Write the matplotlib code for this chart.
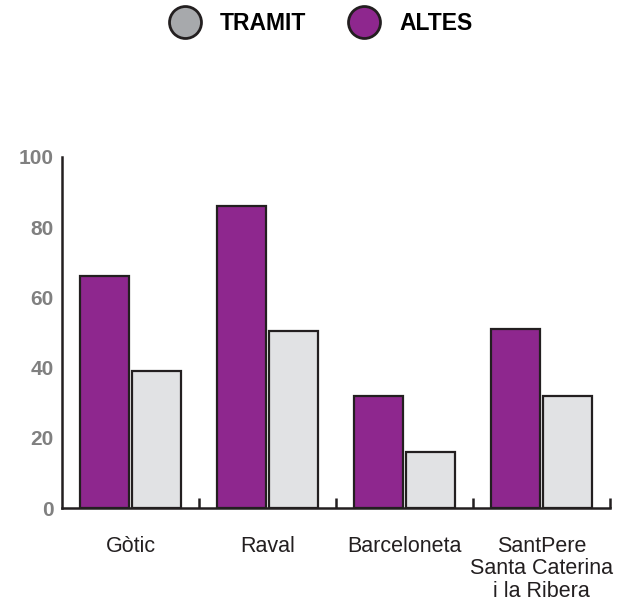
import matplotlib
matplotlib.use("Agg")
import matplotlib.pyplot as plt
from matplotlib.lines import Line2D
import numpy as np

categories = ["Gòtic", "Raval", "Barceloneta", "SantPere\nSanta Caterina\ni la Ribera"]
altes = [66, 86, 32, 51]
tramit = [39, 50.5, 16, 32]
yticks = [0, 20, 40, 60, 80, 100]

purple = "#8E278E"
grey = "#E1E2E4"
edge = "#231F20"

plt.rcParams['font.family'] = ['Liberation Sans', 'DejaVu Sans']

fig = plt.figure(figsize=(6.39, 6.02), dpi=100)
ax = fig.add_axes([62/639, 1-508/602, (610-62)/639, (508-157)/602])

x = np.arange(len(categories))
w = 0.36
ax.bar(x - 0.19, altes, width=w, color=purple, edgecolor=edge, linewidth=1.6, zorder=3)
ax.bar(x + 0.19, tramit, width=w, color=grey, edgecolor=edge, linewidth=1.6, zorder=3)

ax.set_xlim(-0.5, len(categories) - 0.5)
ax.set_ylim(0, 100)
for s in ["top", "right"]:
    ax.spines[s].set_visible(False)
ax.spines["left"].set_linewidth(1.8)
ax.spines["bottom"].set_linewidth(1.8)
ax.spines["left"].set_color(edge)
ax.spines["bottom"].set_color(edge)

ax.set_yticks(yticks)
ax.set_yticklabels([str(v) for v in yticks], color="#808080", fontweight="bold", fontsize=15)
ax.tick_params(axis="y", length=0, pad=6)

# minor ticks at group boundaries (upward)
ax.set_xticks(np.arange(len(categories)) + 0.5, minor=True)
ax.tick_params(axis="x", which="minor", direction="in", length=7, width=1.8, color=edge)
ax.set_xticks(x)
ax.set_xticklabels(categories, fontsize=15.5, color="#231F20", linespacing=1.1)
ax.tick_params(axis="x", which="major", length=0, pad=20)

handles = [
    Line2D([], [], marker="o", linestyle="", markersize=23, markerfacecolor="#A7A9AC", markeredgecolor=edge, markeredgewidth=2),
    Line2D([], [], marker="o", linestyle="", markersize=23, markerfacecolor=purple, markeredgecolor=edge, markeredgewidth=2),
]
fig.legend(handles, ["TRAMIT", "ALTES"], loc="center", bbox_to_anchor=(0.5, 1-24/602), ncol=2,
           frameon=False, prop={"weight": "bold", "size": 16.5}, handlelength=1.6,
           handletextpad=0.75, columnspacing=1.7)

fig.savefig("out.png", dpi=100)
